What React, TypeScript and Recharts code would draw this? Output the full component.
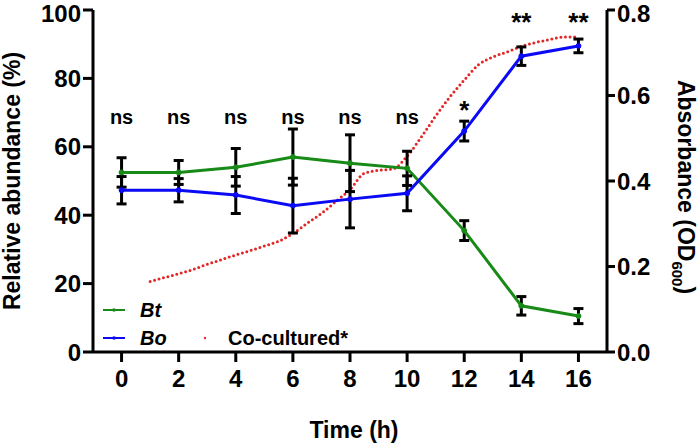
import { ComposedChart, ErrorBar, Line, Scatter, XAxis, YAxis } from 'recharts'

document.body.style.margin = '0'

// relative abundance (%) per time point, mean and error
const hours = [0, 2, 4, 6, 8, 10, 12, 14, 16]
const btMean = [52.5, 52.5, 54.0, 57.0, 55.2, 53.7, 35.5, 13.5, 10.5]
const btErr = [4.3, 3.5, 5.5, 8.2, 8.3, 5.0, 2.9, 2.7, 2.2]
const boMean = [47.3, 47.3, 45.9, 42.8, 44.7, 46.4, 64.6, 86.5, 89.5]
const boErr = [4.0, 3.4, 5.4, 8.0, 8.4, 5.1, 2.9, 2.7, 2.0]

// significance marks above each time point
const sigText = ['ns', 'ns', 'ns', 'ns', 'ns', 'ns', '*', '**', '**']
const sigLevel = [66.7, 66.7, 66.7, 66.7, 66.7, 66.7, 68.1, 93.9, 93.9]

// co-cultured OD600 growth curve
const coHours = [1, 1.5, 2, 2.5, 3, 3.5, 4, 4.5, 5, 5.5, 6, 6.5, 7, 7.5, 8, 8.5, 9, 9.5, 10, 10.5, 11, 11.5, 12, 12.5, 13, 13.5, 14, 14.5, 15, 15.5, 16]
const coOd = [0.165, 0.174, 0.183, 0.193, 0.205, 0.216, 0.227, 0.237, 0.248, 0.259, 0.277, 0.301, 0.324, 0.352, 0.38, 0.418, 0.425, 0.428, 0.458, 0.503, 0.552, 0.597, 0.636, 0.672, 0.69, 0.702, 0.715, 0.724, 0.731, 0.737, 0.737]

const pctTicks = [0, 20, 40, 60, 80, 100]
const odTicks = [0, 0.2, 0.4, 0.6, 0.8]

const GREEN = '#178a17'
const BLUE = '#0a0af5'
const RED = '#e32626'
const FONT = '"Liberation Sans", Arial, sans-serif'

const mainData = hours.map((t, i) => ({ t, bt: btMean[i], btErr: btErr[i], bo: boMean[i], boErr: boErr[i] }))
const coData = coHours.map((t, i) => ({ t, od: coOd[i] }))
const sigData = hours.map((t, i) => ({ t, y: sigLevel[i], label: sigText[i] }))

const tickStyle = { fill: '#000', fontSize: 24, fontWeight: 700, fontFamily: FONT }
const axisStroke = { stroke: '#000', strokeWidth: 3 }

const LeftTitle = (props: any) => {
  const vb = props.viewBox
  const cy = vb.y + vb.height / 2
  return (
    <text x={20} y={cy} transform={`rotate(-90 20 ${cy})`} textAnchor="middle"
      style={{ fontFamily: FONT, fontWeight: 700, fontSize: 23, fill: '#000' }}>
      Relative abundance (%)
    </text>
  )
}

const RightTitle = (props: any) => {
  const vb = props.viewBox
  const cy = vb.y + vb.height / 2 + 6
  const x = 678
  return (
    <text x={x} y={cy} transform={`rotate(90 ${x} ${cy})`} textAnchor="middle"
      style={{ fontFamily: FONT, fontWeight: 700, fontSize: 23, fill: '#000' }}>
      Absorbance (OD<tspan dy={6} fontSize={15}>600</tspan><tspan dy={-6}>)</tspan>
    </text>
  )
}

const BottomTitle = (props: any) => {
  const vb = props.viewBox
  return (
    <text x={vb.x + vb.width / 2 + 4} y={438} textAnchor="middle"
      style={{ fontFamily: FONT, fontWeight: 700, fontSize: 23, fill: '#000' }}>
      Time (h)
    </text>
  )
}

const SigMark = (props: any) => {
  const star = props.payload.label !== 'ns'
  return (
    <text x={props.cx} y={props.cy} textAnchor="middle"
      style={{ fontFamily: FONT, fontWeight: 700, fontSize: star ? 26 : 20, fill: '#000' }}>
      {props.payload.label}
    </text>
  )
}

function LegendOverlay() {
  const txt = { fontFamily: FONT, fontWeight: 700, fontSize: 20, fill: '#000' }
  return (
    <svg width={700} height={443} style={{ position: 'absolute', left: 0, top: 0, pointerEvents: 'none' }}>
      <line x1={103} x2={125} y1={310} y2={310} stroke={GREEN} strokeWidth={2} />
      <circle cx={114} cy={310} r={1.8} fill={GREEN} />
      <text x={140} y={317} style={{ ...txt, fontStyle: 'italic' }}>Bt</text>
      <line x1={103} x2={125} y1={338} y2={338} stroke={BLUE} strokeWidth={2} />
      <circle cx={114} cy={338} r={1.8} fill={BLUE} />
      <text x={140} y={345} style={{ ...txt, fontStyle: 'italic' }}>Bo</text>
      <circle cx={205} cy={338} r={1.2} fill={RED} />
      <text x={228} y={345} style={txt}>Co-cultured*</text>
    </svg>
  )
}

export default function App() {
  return (
    <div style={{ position: 'relative', width: 700, height: 443, background: '#fff' }}>
      <ComposedChart width={700} height={443} data={mainData} margin={{ top: 10, right: 0, bottom: 0, left: 0 }}>
        <XAxis
          type="number"
          dataKey="t"
          domain={[-1, 17]}
          ticks={hours}
          height={91}
          tick={tickStyle}
          tickSize={10}
          tickMargin={8}
          axisLine={axisStroke}
          tickLine={axisStroke}
          label={BottomTitle}
        />
        <YAxis
          yAxisId="pct"
          domain={[0, 100]}
          ticks={pctTicks}
          width={93}
          tick={tickStyle}
          tickSize={10}
          tickMargin={2}
          axisLine={axisStroke}
          tickLine={axisStroke}
          label={LeftTitle}
        />
        <YAxis
          yAxisId="od"
          orientation="right"
          domain={[0, 0.8]}
          ticks={odTicks}
          tickFormatter={(v: number) => v.toFixed(1)}
          width={93}
          tick={tickStyle}
          tickSize={8}
          tickMargin={2}
          axisLine={axisStroke}
          tickLine={axisStroke}
          label={RightTitle}
        />
        <Line
          yAxisId="od"
          data={coData}
          dataKey="od"
          type="monotone"
          stroke={RED}
          strokeWidth={3}
          strokeDasharray="0 4.6"
          strokeLinecap="round"
          dot={false}
          isAnimationActive={false}
        />
        <Line
          yAxisId="pct"
          dataKey="bt"
          stroke={GREEN}
          strokeWidth={3}
          dot={{ r: 2.5, fill: GREEN, stroke: GREEN, strokeWidth: 1 }}
          isAnimationActive={false}
        >
          <ErrorBar dataKey="btErr" direction="y" width={5} stroke="#000" strokeWidth={3} />
        </Line>
        <Line
          yAxisId="pct"
          dataKey="bo"
          stroke={BLUE}
          strokeWidth={3}
          dot={{ r: 2.5, fill: BLUE, stroke: BLUE, strokeWidth: 1 }}
          isAnimationActive={false}
        >
          <ErrorBar dataKey="boErr" direction="y" width={5} stroke="#000" strokeWidth={3} />
        </Line>
        <Scatter yAxisId="pct" data={sigData} dataKey="y" shape={SigMark} isAnimationActive={false} />
      </ComposedChart>
      <LegendOverlay />
    </div>
  )
}
